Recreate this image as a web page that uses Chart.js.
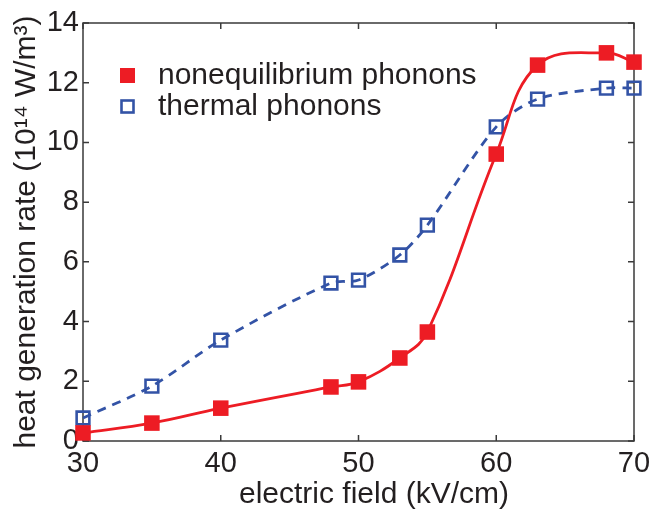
<!DOCTYPE html>
<html>
<head>
<meta charset="utf-8">
<script src="https://cdn.jsdelivr.net/npm/chart.js@4.4.1/dist/chart.umd.min.js"></script>
<style>
  html, body { margin: 0; padding: 0; background: #fff; }
</style>
</head>
<body>
<canvas id="heatChart" width="668" height="510"></canvas>
<script>
const fieldValues = [30, 35, 40, 48, 50, 53, 55, 60, 63, 68, 70];
const nonequilibriumRate = [0.27, 0.6, 1.1, 1.81, 1.98, 2.78, 3.65, 9.61, 12.59, 13.0, 12.69];
const thermalRate = [0.77, 1.84, 3.38, 5.29, 5.39, 6.23, 7.23, 10.52, 11.45, 11.82, 11.82];
const xTicks = [30, 40, 50, 60, 70];
const yTicks = [0, 2, 4, 6, 8, 10, 12, 14];
const seriesNames = ["nonequilibrium phonons", "thermal phonons"];
const xTitle = "electric field (kV/cm)";
const yTitle = "heat generation rate (10\u00b9\u2074 W/m\u00b3)";

const textColor = "#231f20";
const frameColor = "#3a3a3a";
const redColor = "#ed1c24";
const blueColor = "#3353a6";
const fontFamily = '"Liberation Sans", Arial, Helvetica, sans-serif';

Chart.defaults.font.family = fontFamily;
Chart.defaults.color = textColor;

function toPoints(values) {
  return fieldValues.map((x, i) => ({ x: x, y: values[i] }));
}

// Frame with inward ticks on all four sides
const framePlugin = {
  id: "frame",
  beforeDatasetsDraw(chart) {
    const { ctx, chartArea: a, scales } = chart;
    const len = 6;
    ctx.save();
    ctx.strokeStyle = frameColor;
    ctx.lineWidth = 1.5;
    ctx.strokeRect(a.left, a.top, a.right - a.left, a.bottom - a.top);
    ctx.beginPath();
    xTicks.forEach((v) => {
      const px = scales.x.getPixelForValue(v);
      ctx.moveTo(px, a.bottom);
      ctx.lineTo(px, a.bottom - len);
      ctx.moveTo(px, a.top);
      ctx.lineTo(px, a.top + len);
    });
    yTicks.forEach((v) => {
      const py = scales.y.getPixelForValue(v);
      ctx.moveTo(a.left, py);
      ctx.lineTo(a.left + len, py);
      ctx.moveTo(a.right, py);
      ctx.lineTo(a.right - len, py);
    });
    ctx.stroke();
    ctx.restore();
  },
};

// Legend inside the plot, top left, plus the x title (sits a bit right of centre)
const labelPlugin = {
  id: "labels",
  afterDraw(chart) {
    const ctx = chart.ctx;
    ctx.save();
    ctx.fillStyle = redColor;
    ctx.fillRect(120, 68, 15, 15);
    ctx.strokeStyle = blueColor;
    ctx.lineWidth = 2.6;
    ctx.strokeRect(121.5, 100.5, 12, 12);
    ctx.fillStyle = textColor;
    ctx.font = "30px " + fontFamily;
    ctx.textBaseline = "middle";
    ctx.textAlign = "left";
    ctx.fillText(seriesNames[0], 158, 76);
    ctx.fillText(seriesNames[1], 158, 107);
    ctx.textBaseline = "alphabetic";
    ctx.textAlign = "center";
    ctx.fillText(xTitle, 374, 503);
    ctx.restore();
  },
};

new Chart(document.getElementById("heatChart"), {
  type: "line",
  data: {
    datasets: [
      {
        label: seriesNames[0],
        data: toPoints(nonequilibriumRate),
        borderColor: redColor,
        borderWidth: 2.8,
        tension: 0.4,
        pointStyle: "rect",
        pointRadius: 11,
        pointBackgroundColor: redColor,
        pointBorderWidth: 0,
        clip: false,
      },
      {
        label: seriesNames[1],
        data: toPoints(thermalRate),
        borderColor: blueColor,
        borderWidth: 2.8,
        borderDash: [9, 7],
        tension: 0.3,
        pointStyle: "rect",
        pointRadius: 9,
        pointBackgroundColor: "rgba(0,0,0,0)",
        pointBorderColor: blueColor,
        pointBorderWidth: 2.6,
        clip: false,
      },
    ],
  },
  options: {
    responsive: false,
    animation: false,
    devicePixelRatio: 1,
    layout: { padding: { top: 23, right: 34, left: 0, bottom: 0 } },
    plugins: {
      legend: { display: false },
      tooltip: { enabled: false },
    },
    scales: {
      x: {
        type: "linear",
        min: 30,
        max: 70,
        afterBuildTicks: (scale) => {
          scale.ticks = xTicks.map((v) => ({ value: v }));
        },
        afterFit: (scale) => {
          scale.height = 69;
        },
        grid: { display: false, drawTicks: false },
        border: { display: false },
        ticks: { font: { size: 29 }, padding: 6, color: textColor, maxRotation: 0 },
        title: { display: false },
      },
      y: {
        type: "linear",
        min: 0,
        max: 14,
        afterBuildTicks: (scale) => {
          scale.ticks = yTicks.map((v) => ({ value: v }));
        },
        afterFit: (scale) => {
          scale.width = 83;
        },
        grid: { display: false, drawTicks: false },
        border: { display: false },
        ticks: { font: { size: 29 }, padding: 4, color: textColor },
        title: {
          display: true,
          text: yTitle,
          font: { size: 30 },
          color: textColor,
          padding: { top: 9, bottom: 0 },
        },
      },
    },
  },
  plugins: [framePlugin, labelPlugin],
});
</script>
</body>
</html>
